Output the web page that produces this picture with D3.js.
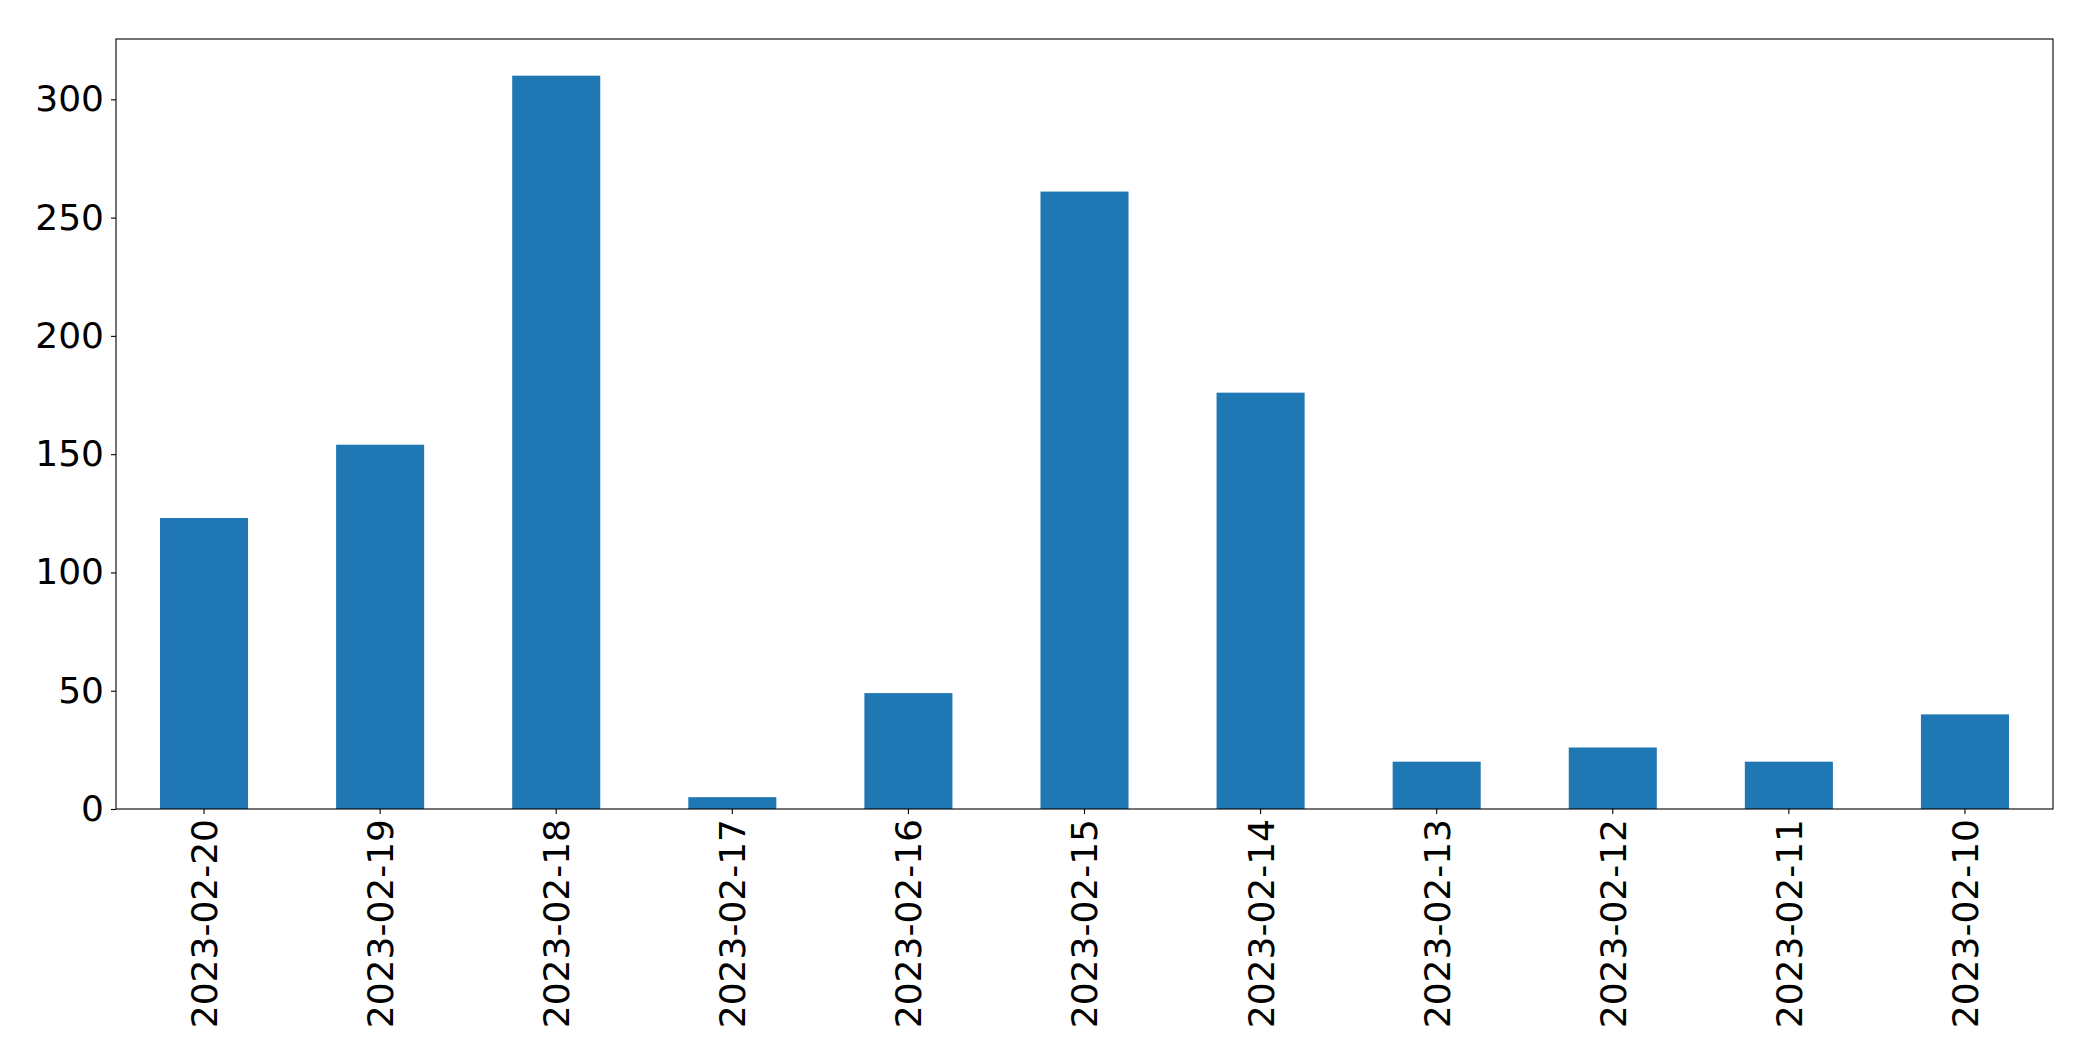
<!DOCTYPE html>
<html>
<head>
<meta charset="utf-8">
<script src="https://cdn.jsdelivr.net/npm/d3@7"></script>
<style>
  html, body { margin: 0; padding: 0; background: #fff; }
  svg { display: block; }
</style>
</head>
<body>
<svg id="chart" width="2093" height="1061"></svg>
<script>
const categories = ["2023-02-20","2023-02-19","2023-02-18","2023-02-17","2023-02-16","2023-02-15","2023-02-14","2023-02-13","2023-02-12","2023-02-11","2023-02-10"];
const values = [123, 154, 310, 5, 49, 261, 176, 20, 26, 20, 40];
const yTicks = [0, 50, 100, 150, 200, 250, 300];

const W = 2093, H = 1061;
const margin = { left: 116, top: 39, right: W - 2053, bottom: H - 809 };
const iw = W - margin.left - margin.right;
const ih = H - margin.top - margin.bottom;
const font = "DejaVu Sans";
const fs = 36;

const svg = d3.select("#chart");
const g = svg.append("g").attr("transform", `translate(${margin.left},${margin.top})`);

const x = d3.scaleBand().domain(categories).range([0, iw]).paddingInner(0.5).paddingOuter(0.25);
const yMax = d3.max(values) * 1.05;
const y = d3.scaleLinear().domain([0, yMax]).range([ih, 0]);

g.selectAll("rect.bar").data(values).enter().append("rect")
  .attr("class", "bar")
  .attr("x", (d, i) => x(categories[i]))
  .attr("width", x.bandwidth())
  .attr("y", d => y(d))
  .attr("height", d => ih - y(d))
  .attr("fill", "#1f77b4");

// Y axis
const yAxis = d3.axisLeft(y).tickValues(yTicks).tickSize(5).tickPadding(7).tickFormat(d3.format("d"));
const yg = g.append("g").call(yAxis);
yg.select(".domain").remove();
yg.selectAll("line").attr("stroke", "#000").attr("stroke-width", 1.1);
yg.selectAll("text").attr("font-family", font).attr("font-size", fs).attr("fill", "#000");

// X axis
const xAxis = d3.axisBottom(x).tickSize(5).tickPadding(0);
const xg = g.append("g").attr("transform", `translate(0,${ih})`).call(xAxis);
xg.select(".domain").remove();
xg.selectAll("line").attr("stroke", "#000").attr("stroke-width", 1.1);
xg.selectAll("text")
  .attr("font-family", font).attr("font-size", fs).attr("fill", "#000")
  .attr("text-anchor", "end")
  .attr("transform", "translate(0,10) rotate(-90)")
  .attr("x", 0).attr("y", 0).attr("dy", "0.36em");

// Frame
g.append("rect").attr("x", 0).attr("y", 0).attr("width", iw).attr("height", ih)
  .attr("fill", "none").attr("stroke", "#000").attr("stroke-width", 1.1);
</script>
</body>
</html>
